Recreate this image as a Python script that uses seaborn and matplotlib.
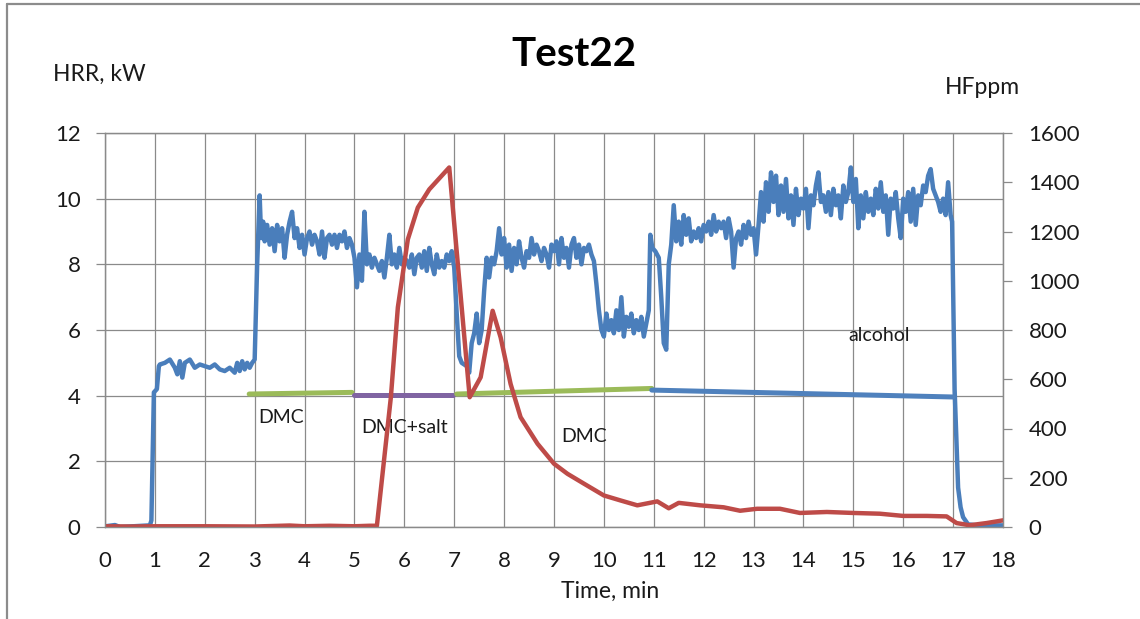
import matplotlib
matplotlib.use("Agg")
import matplotlib.pyplot as plt
import seaborn as sns
from matplotlib.lines import Line2D

# HRR (kW, left axis)
hrr_time = [0, 0.2, 0.3, 0.9, 0.93, 0.98, 1.04, 1.08,
            1.1, 1.2, 1.3, 1.4, 1.45, 1.5, 1.55, 1.6, 1.7, 1.8, 1.9, 2.0,
            2.1, 2.2, 2.3, 2.4, 2.5, 2.6, 2.65, 2.7, 2.75, 2.8, 2.85, 2.9, 2.95, 3.0,
            3.05, 3.1, 3.13, 3.17, 3.2, 3.25, 3.3, 3.35, 3.4, 3.45, 3.5, 3.55, 3.6,
            3.65, 3.7, 3.75, 3.8, 3.85, 3.9, 3.95, 4.0, 4.05, 4.1, 4.15, 4.2, 4.25,
            4.3, 4.35, 4.4, 4.45, 4.5, 4.55, 4.6, 4.65, 4.7, 4.75, 4.8, 4.85, 4.9,
            4.95, 5.0, 5.05, 5.1, 5.15, 5.2, 5.25, 5.3, 5.35, 5.4, 5.45, 5.5, 5.55,
            5.6, 5.65, 5.7, 5.75, 5.8, 5.85, 5.9, 5.95, 6.0, 6.05, 6.1, 6.15, 6.2,
            6.25, 6.3, 6.35, 6.4, 6.45, 6.5, 6.55, 6.6, 6.65, 6.7, 6.75, 6.8, 6.85,
            6.9, 6.95, 7.0, 7.05, 7.1, 7.15, 7.2, 7.25, 7.3, 7.35, 7.4, 7.45, 7.5,
            7.55, 7.6, 7.65, 7.7, 7.75, 7.8, 7.85, 7.9, 7.95, 8.0, 8.05, 8.1, 8.15,
            8.2, 8.25, 8.3, 8.35, 8.4, 8.45, 8.5, 8.55, 8.6, 8.65, 8.7, 8.75, 8.8,
            8.85, 8.9, 8.95, 9.0, 9.05, 9.1, 9.15, 9.2, 9.25, 9.3, 9.35, 9.4, 9.45,
            9.5, 9.55, 9.6, 9.65, 9.7, 9.75, 9.8, 9.85, 9.9, 9.95, 10.0, 10.05, 10.1,
            10.15, 10.2, 10.25, 10.3, 10.35, 10.4, 10.45, 10.5, 10.55, 10.6, 10.65,
            10.7, 10.75, 10.8, 10.85, 10.9, 10.93, 10.97, 11.03, 11.1, 11.15, 11.2,
            11.25, 11.3, 11.35, 11.4, 11.45, 11.5, 11.55, 11.6, 11.65, 11.7, 11.75,
            11.8, 11.85, 11.9, 11.95, 12.0, 12.05, 12.1, 12.15, 12.2, 12.25, 12.3,
            12.35, 12.4, 12.45, 12.5, 12.55, 12.6, 12.65, 12.7, 12.75, 12.8, 12.85,
            12.9, 12.95, 13.0, 13.05, 13.1, 13.15, 13.2, 13.25, 13.3, 13.35, 13.4,
            13.45, 13.5, 13.55, 13.6, 13.65, 13.7, 13.75, 13.8, 13.85, 13.9, 13.95,
            14.0, 14.05, 14.1, 14.15, 14.2, 14.25, 14.3, 14.35, 14.4, 14.45, 14.5,
            14.55, 14.6, 14.65, 14.7, 14.75, 14.8, 14.85, 14.9, 14.95, 15.0, 15.05,
            15.1, 15.15, 15.2, 15.25, 15.3, 15.35, 15.4, 15.45, 15.5, 15.55, 15.6,
            15.65, 15.7, 15.75, 15.8, 15.85, 15.9, 15.95, 16.0, 16.05, 16.1, 16.15,
            16.2, 16.25, 16.3, 16.35, 16.4, 16.45, 16.5, 16.55, 16.6, 16.65, 16.7,
            16.75, 16.8, 16.85, 16.9, 16.95, 16.98, 17.0, 17.03, 17.1, 17.15, 17.2,
            17.3, 17.5, 18.0]
hrr_kw = [0.02, 0.06, 0.0, 0.05, 0.2, 4.1, 4.2, 4.9,
          4.95, 5.0, 5.1, 4.85, 4.65, 5.05, 4.55, 5.0, 5.1, 4.85, 4.95, 4.9,
          4.85, 4.95, 4.8, 4.75, 4.85, 4.7, 5.0, 4.75, 5.05, 4.8, 5.0, 4.85, 5.0, 5.1,
          8.0, 10.1, 8.8, 9.3, 8.7, 9.2, 8.6, 9.1, 8.4, 9.2, 8.7, 9.1, 8.2,
          8.9, 9.3, 9.6, 8.8, 9.1, 8.5, 8.9, 8.3, 8.8, 9.0, 8.6, 8.9, 8.7,
          8.3, 9.0, 8.2, 8.8, 8.9, 8.6, 8.9, 8.5, 8.9, 8.7, 9.0, 8.5, 8.8,
          8.6, 8.2, 7.3, 8.3, 7.5, 9.6, 8.0, 8.3, 7.9, 8.2, 8.0, 7.8, 8.1,
          7.6, 8.2, 8.9, 8.0, 8.3, 7.9, 8.5, 8.0, 8.2, 8.1, 7.9, 8.3, 7.7,
          8.2, 8.3, 7.9, 8.4, 7.8, 8.5, 8.0, 7.7, 8.3, 7.9, 8.1, 7.9, 8.3,
          8.1, 8.4, 7.9, 6.5, 5.2, 5.0, 4.95, 4.9, 4.7, 5.6, 5.9, 6.5, 5.6,
          6.0, 7.2, 8.2, 7.6, 8.2, 8.0, 8.4, 9.1, 8.3, 8.8, 7.9, 8.6, 7.8,
          8.5, 8.0, 8.7, 8.2, 7.9, 8.4, 8.2, 8.8, 8.3, 8.6, 8.4, 8.1, 8.5,
          8.3, 7.9, 8.6, 8.4, 8.7, 8.0, 8.8, 8.2, 8.5, 7.9, 8.6, 8.8, 8.2,
          8.6, 8.0, 8.5, 8.4, 8.6, 8.3, 8.1, 7.4, 6.6, 6.0, 5.8, 6.5, 6.0,
          6.3, 5.9, 6.6, 6.0, 7.0, 5.8, 6.4, 6.1, 6.5, 5.9, 6.3,
          6.0, 6.4, 5.8, 6.2, 6.6, 8.9, 8.5, 8.4, 8.2, 7.0, 5.6,
          5.4, 8.0, 8.6, 9.8, 8.7, 9.3, 8.6, 9.5, 8.9, 9.4, 8.7,
          9.0, 8.8, 9.1, 8.7, 9.2, 9.0, 9.3, 8.9, 9.5, 9.0, 9.3,
          9.1, 9.3, 8.8, 9.4, 9.0, 7.9, 8.8, 9.0, 8.6, 9.2, 8.8,
          9.3, 8.9, 9.1, 8.3, 9.2, 10.2, 9.3, 10.5, 9.6, 10.8, 9.9,
          10.7, 9.5, 10.4, 9.6, 10.6, 9.4, 10.1, 9.2, 10.3, 9.5, 10.0,
          9.7, 10.3, 9.1, 10.1, 9.8, 10.4, 10.8, 9.9, 10.1, 9.6, 10.2,
          9.5, 10.3, 9.8, 10.1, 9.4, 10.4, 9.9, 10.2, 10.95, 9.9, 10.6,
          9.1, 10.1, 9.4, 10.2, 9.6, 10.0, 9.5, 10.3, 9.7, 10.5, 9.6,
          10.1, 8.9, 10.0, 9.7, 10.2, 9.4, 8.8, 10.0, 9.6, 10.2, 9.3,
          10.3, 9.2, 10.1, 9.8, 10.4, 10.2, 10.7, 10.9, 10.3, 10.1, 9.9,
          9.6, 10.0, 9.5, 10.5, 9.5, 9.3, 7.3, 4.2, 1.2, 0.6, 0.3,
          0.08, 0.05, 0.05]

# HF (ppm, right axis)
hf_time = [0, 0.5, 1, 2, 3, 3.7, 4.0, 4.5, 5.0, 5.3, 5.45, 5.73, 5.87, 6.07,
           6.27, 6.5, 6.9, 7.31, 7.53, 7.77, 7.93, 8.13, 8.33, 8.67, 9.0, 9.27,
           9.6, 10.0, 10.33, 10.67, 11.07, 11.3, 11.5, 11.93, 12.4, 12.73, 13.07,
           13.53, 13.93, 14.47, 15.0, 15.53, 16.0, 16.47, 16.87, 17.07, 17.33,
           17.67, 18.0]
hf_ppm = [3, 2, 3, 3, 2, 6, 3, 5, 3, 5, 5, 527, 892, 1168,
          1297, 1371, 1460, 527, 608, 878, 770, 581, 446, 338, 257, 216,
          176, 128, 108, 88, 104, 76, 98, 88, 80, 66, 74,
          74, 57, 61, 57, 54, 45, 45, 43, 16, 7,
          16, 27]

# fuel phases drawn as bars near 4 kW
phase_names = ["DMC", "DMC+salt", "DMC", "alcohol"]
phase_start = [2.89, 5.0, 7.05, 10.96]
phase_end = [4.95, 6.97, 10.96, 17.0]
phase_level_start = [4.05, 4.02, 4.05, 4.17]
phase_level_end = [4.1, 4.02, 4.22, 3.96]
phase_colors = ["#9bbb59", "#8064a2", "#9bbb59", "#4f81bd"]
label_x = [3.53, 6.01, 9.6, 15.51]
label_y = [3.32, 3.02, 2.77, 5.82]

sns.set_style("white")
plt.rcParams["font.family"] = ["Lato", "DejaVu Sans"]

fig = plt.figure(figsize=(11.4, 6.19), dpi=100)
ax = fig.add_axes([105 / 1140, 1 - 527 / 619, 898 / 1140, 394 / 619])
ax2 = ax.twinx()

grid_c = "#8a8a8a"
txt_c = "#1a1a1a"

sns.lineplot(x=hrr_time, y=hrr_kw, ax=ax, color="#4a7ebb", linewidth=3.2,
             estimator=None, sort=False)
for s, e, v0, v1, c in zip(phase_start, phase_end, phase_level_start,
                           phase_level_end, phase_colors):
    sns.lineplot(x=[s, e], y=[v0, v1], ax=ax, color=c, linewidth=3.6,
                 estimator=None, sort=False)
for name, x, y in zip(phase_names, label_x, label_y):
    ax.text(x, y, name, ha="center", va="center", fontsize=14, color=txt_c)

sns.lineplot(x=hf_time, y=hf_ppm, ax=ax2, color="#be4b48", linewidth=3.2,
             estimator=None, sort=False)

ax.set_xlim(0, 18)
ax.set_ylim(0, 12)
ax2.set_ylim(0, 1600)
ax.set_xticks(range(0, 19))
ax.set_yticks(range(0, 13, 2))
ax2.set_yticks(range(0, 1601, 200))
ax.set_xlabel("")
ax.set_ylabel("")
ax2.set_ylabel("")

ax.grid(True, color=grid_c, linewidth=0.9)
ax2.grid(False)
for a in (ax, ax2):
    for sp in a.spines.values():
        sp.set_color(grid_c)
        sp.set_linewidth(0.9)
ax.tick_params(axis="both", direction="out", length=6.5, width=0.9,
               color=grid_c, labelsize=16, labelcolor=txt_c)
ax.tick_params(axis="y", pad=11)
ax.tick_params(axis="x", pad=11)
ax2.tick_params(axis="y", direction="out", length=6.5, width=0.9,
                color=grid_c, labelsize=16, labelcolor=txt_c, pad=12)

fig.text(574 / 1140, 1 - 55 / 619, "Test22", ha="center", va="center",
         fontsize=29, fontweight="bold", color="#000000")
fig.text(53 / 1140, 1 - 74 / 619, "HRR, kW", ha="left", va="center",
         fontsize=16.5, color=txt_c)
fig.text(945 / 1140, 1 - 88 / 619, "HFppm", ha="left", va="center",
         fontsize=16.5, color=txt_c)
fig.text(610 / 1140, 1 - 591 / 619, "Time, min", ha="center", va="center",
         fontsize=16.5, color=txt_c)

# outer chart frame (cropped on right and bottom)
fig.add_artist(Line2D([7 / 1140, 7 / 1140], [0, 1 - 4 / 619],
                      color="#8c8c8c", linewidth=1.6))
fig.add_artist(Line2D([7 / 1140, 1], [1 - 4 / 619, 1 - 4 / 619],
                      color="#8c8c8c", linewidth=1.6))

fig.savefig("out.png", dpi=100)
